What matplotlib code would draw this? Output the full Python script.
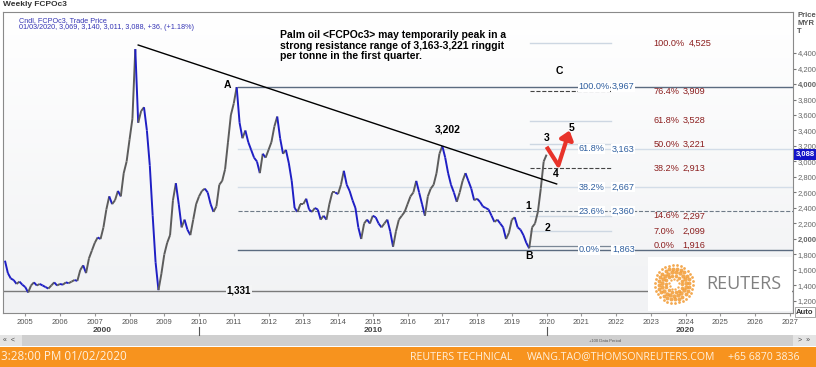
#!/bin/env python

import numpy as np
import pandas as pd
import matplotlib
matplotlib.use("Agg")
import matplotlib.pyplot as plt
import matplotlib.transforms as mtransforms
from matplotlib.collections import LineCollection
from matplotlib.colors import LinearSegmentedColormap
from matplotlib.patches import Rectangle, FancyArrowPatch
from matplotlib.lines import Line2D

plt.rcParams['font.family'] = ['Liberation Sans', 'DejaVu Sans']

W, H = 816, 367

# monthly closes of FCPOc3 (MYR/t), Jun 2004 .. Jan 2020
first_month = "2004-06-01"
closes = [
    1720, 1560, 1490, 1470, 1420, 1450, 1410,                                # 2004
    1380, 1310, 1400, 1440, 1400, 1420, 1400, 1380, 1360, 1400, 1440, 1400,  # 2005
    1420, 1410, 1440, 1430, 1450, 1470, 1460, 1600, 1660, 1560, 1750, 1850,  # 2006
    1950, 2020, 2000, 2150, 2380, 2550, 2450, 2500, 2620, 2550, 2850, 3000,  # 2007
    3280, 3550, 4450, 3500, 3650, 3700, 3400, 2950, 2300, 1700, 1340, 1550,  # 2008
    1800, 1950, 2050, 2500, 2720, 2450, 2150, 2250, 2120, 2050, 2250, 2450,  # 2009
    2550, 2620, 2650, 2600, 2450, 2350, 2420, 2700, 2750, 2900, 3250, 3600,  # 2010
    3750, 3960, 3500, 3300, 3400, 3250, 3150, 3050, 3000, 2850, 3100, 3050,  # 2011
    3150, 3250, 3450, 3580, 3300, 3100, 3150, 2980, 2750, 2400, 2350, 2450,  # 2012
    2450, 2520, 2380, 2350, 2400, 2380, 2250, 2300, 2250, 2450, 2600, 2600,  # 2013
    2580, 2700, 2880, 2700, 2620, 2500, 2400, 2150, 2000, 2200, 2250, 2200,  # 2014
    2300, 2280, 2200, 2150, 2200, 2250, 2100, 1900, 2100, 2250, 2300, 2350,  # 2015
    2450, 2550, 2600, 2750, 2600, 2450, 2300, 2550, 2650, 2700, 2850, 3100,  # 2016
    3200, 3050, 2850, 2700, 2600, 2480, 2600, 2750, 2850, 2750, 2650, 2500,  # 2017
    2520, 2480, 2420, 2400, 2380, 2300, 2220, 2250, 2200, 2150, 2000, 2080,  # 2018
    2250, 2280, 2150, 2120, 2050, 1950, 1880, 2150, 2200, 2350, 2650, 3000,  # 2019
    3088,                                                                    # 2020
]
last_close = 3088

year_ticks = list(range(2005, 2028))
decade_labels = ["2000", "2010", "2020"]
decade_label_x = [2007.2, 2015.0, 2024.0]
decade_marks = [2010, 2020]
price_ticks = list(range(1200, 4401, 200))

# A -> B retracement (blue)
ret_pct = ["0.0%", "23.6%", "38.2%", "61.8%", "100.0%"]
ret_val = [1863, 2360, 2667, 3163, 3967]
# projection levels (red)
proj_pct = ["0.0%", "7.0%", "14.6%", "38.2%", "50.0%", "61.8%", "76.4%", "100.0%"]
proj_val = [1916, 2099, 2297, 2913, 3221, 3528, 3909, 4525]

trend_x = [2008.25, 2020.29]
trend_y = [4503, 2710]
support_val = 1331
arrow_x = [2020.0, 2020.34, 2020.66]
arrow_y = [3190, 2950, 3400]
wave_labels = ["A", "B", "C", "1", "2", "3", "4", "5", "3,202"]
wave_x = [2010.83, 2019.51, 2020.37, 2019.48, 2020.02, 2020.0, 2020.26, 2020.72, 2017.16]
wave_y = [3987, 1781, 4168, 2426, 2142, 3303, 2839, 3432, 3419]

note = ("Palm oil <FCPOc3> may temporarily peak in a\n"
        "strong resistance range of 3,163-3,221 ringgit\n"
        "per tonne in the first quarter.")


def fx(p):
    return p / float(W)


def fy(p):
    return 1.0 - p / float(H)


fig = plt.figure(figsize=(W / 100.0, H / 100.0), dpi=100)
fig.patch.set_facecolor("white")

ax = fig.add_axes([fx(3), fy(313), fx(793) - fx(3), fy(11.7) - fy(313)])
x_lo, x_hi = 2004.36, 2027.09
y_lo, y_hi = 1045, 4933

bg = LinearSegmentedColormap.from_list("bg", ["#f1f2f4", "#ffffff"])
ax.imshow(np.linspace(0, 1, 64).reshape(-1, 1), cmap=bg, extent=[0, 1, 0, 1],
          transform=ax.transAxes, aspect="auto", origin="lower", zorder=0)

# price
months = pd.date_range(first_month, periods=len(closes), freq="MS")
t = np.asarray(months.year + (months.month - 1) / 12.0, dtype=float)
p = np.asarray(closes, dtype=float)
segs = np.stack([np.column_stack([t[:-1], p[:-1]]),
                 np.column_stack([t[1:], p[1:]])], axis=1)
cols = np.where(p[1:] >= p[:-1], "#5c5c5c", "#1f1fc4")
ax.add_collection(LineCollection(segs, colors=list(cols), linewidths=1.4, zorder=5))

# retracement lines from A to right edge
x_a = 2011.12
ret_style = {"0.0%": ("-", "#5b6b80", 1.0), "23.6%": ("--", "#6f7b88", 0.8),
             "38.2%": ("-", "#d3dde8", 1.0), "61.8%": ("-", "#d3dde8", 1.0),
             "100.0%": ("-", "#5b6b80", 1.0)}
lab_fs = 6.6
for pc, v in zip(ret_pct, ret_val):
    ls, c, lw = ret_style[pc]
    ax.plot([x_a, x_hi], [v, v], ls=ls, color=c, lw=lw, zorder=2)
    ax.text(2020.91, v, pc, color="#2f5f9f", fontsize=lab_fs, va="center", ha="left", zorder=8,
            bbox=dict(boxstyle="square,pad=0.05", fc="white", ec="none"))
    ax.text(2021.88, v, format(v, ","), color="#2f5f9f", fontsize=lab_fs, va="center",
            ha="left", zorder=8, bbox=dict(boxstyle="square,pad=0.05", fc="white", ec="none"))

# projection lines
proj_dark = ["38.2%", "76.4%"]
for pc, v in zip(proj_pct, proj_val):
    if pc in proj_dark:
        ax.plot([2019.53, 2021.86], [v, v], ls="--", color="#444444", lw=0.8, zorder=3)
    elif pc == "0.0%":
        ax.plot([2019.53, 2021.86], [v, v], ls="-", color="#7a8796", lw=0.9, zorder=3)
    else:
        ax.plot([2019.53, 2021.86], [v, v], ls="-", color="#cdd7e2", lw=1.0, zorder=3)
    ax.text(2023.07, v, pc, color="#8c1f1f", fontsize=lab_fs, va="center", ha="left", zorder=8)
    val_x = 2023.92 if len(pc) < 6 else 2024.08
    ax.text(val_x, v, format(v, ","), color="#8c1f1f", fontsize=lab_fs, va="center",
            ha="left", zorder=8)

# trend line and support
ax.plot(trend_x, trend_y, color="black", lw=1.0, zorder=6)
ax.axhline(support_val, color="#7a7a7a", lw=1.0, zorder=2)
ax.text(2011.15, support_val, format(support_val, ","), fontsize=7, fontweight="bold",
        ha="center", va="center", zorder=8,
        bbox=dict(boxstyle="square,pad=0.1", fc="#f4f5f6", ec="none"))

# red arrow
ax.plot(arrow_x[:2], arrow_y[:2], color="#e8332a", lw=3, solid_capstyle="butt", zorder=7)
ax.add_patch(FancyArrowPatch((arrow_x[1], arrow_y[1]), (arrow_x[2], arrow_y[2]),
                             arrowstyle="-|>,head_length=5,head_width=4",
                             color="#e8332a", lw=3, shrinkA=0, shrinkB=0, zorder=7))

for lab, xx, yy in zip(wave_labels, wave_x, wave_y):
    ax.text(xx, yy, lab, fontsize=7.5, fontweight="bold", ha="center", va="center", zorder=9)

ax.set_xlim(x_lo, x_hi)
ax.set_ylim(y_lo, y_hi)

ax.yaxis.tick_right()
ax.set_yticks(price_ticks)
ax.set_yticklabels([format(v, ",") for v in price_ticks])
for lab, v in zip(ax.get_yticklabels(), price_ticks):
    if v in (2000, 4000):
        lab.set_fontweight("bold")
        lab.set_color("#333333")
ax.tick_params(axis="y", labelsize=5.5, labelcolor="#666666", length=2.5, pad=1, color="#777777")
ax.set_xticks(year_ticks)
ax.set_xticklabels([str(y) for y in year_ticks])
ax.tick_params(axis="x", labelsize=5.5, labelcolor="#555555", length=2, pad=2.5, color="#999999")
for s in ax.spines.values():
    s.set_color("#8a8a8a")
    s.set_linewidth(0.8)

# current price marker
blend_y = mtransforms.blended_transform_factory(ax.transAxes, ax.transData)
ax.text(1.004, last_close, format(last_close, ","), transform=blend_y, fontsize=5.5,
        color="white", fontweight="bold", ha="left", va="center", clip_on=False, zorder=10,
        bbox=dict(boxstyle="square,pad=0.25", fc="#1414c8", ec="none"))

# decade labels and marks
blend_x = mtransforms.blended_transform_factory(ax.transData, fig.transFigure)
for lab, xx in zip(decade_labels, decade_label_x):
    fig.text(xx, fy(331), lab, transform=blend_x, fontsize=6, fontweight="bold",
             color="#444444", ha="center", va="center")
for xx in decade_marks:
    fig.add_artist(Line2D([xx, xx], [fy(327), fy(335)], transform=blend_x,
                          color="#555555", lw=0.8))

# header texts
fig.text(fx(3), fy(5), "Weekly FCPOc3", fontsize=6, fontweight="bold", color="#333333",
         ha="left", va="center")
fig.text(fx(19), fy(21), "Cndl, FCPOc3, Trade Price", fontsize=5.2, color="#3535b5",
         ha="left", va="center")
fig.text(fx(19), fy(27.5), "01/03/2020, 3,069, 3,140, 3,011, 3,088, +36, (+1.18%)",
         fontsize=5.2, color="#3535b5", ha="left", va="center")
fig.text(fx(280), fy(30), note, fontsize=7.5, fontweight="bold", ha="left", va="top",
         linespacing=1.08)
fig.text(fx(797), fy(12), "Price\nMYR\nT", fontsize=5.5, fontweight="bold", color="#555555",
         ha="left", va="top", linespacing=1.2)
fig.text(fx(805), fy(312), "Auto", fontsize=5.5, fontweight="bold", color="#333333",
         ha="center", va="center",
         bbox=dict(boxstyle="square,pad=0.2", fc="white", ec="#999999", lw=0.6))

# reuters logo box
lax = fig.add_axes([fx(648), fy(311), fx(792) - fx(648), fy(257) - fy(311)], zorder=5)
lax.set_xlim(0, 144)
lax.set_ylim(0, 54)
lax.set_facecolor("white")
lax.axis("off")
lax.add_patch(Rectangle((0, 0), 144, 54, fc="white", ec="none"))
cx, cy = 26, 27
for r, n, s in zip([5, 8.5, 12, 15.5, 19], [9, 14, 19, 24, 30], [3, 7, 10, 8, 4]):
    ang = np.linspace(0, 2 * np.pi, n, endpoint=False) + r
    lax.scatter(cx + r * np.cos(ang), cy + r * np.sin(ang), s=s, color="#f29a32",
                alpha=0.85, lw=0)
lax.text(96, 27, "REUTERS", fontsize=13, color="#808080", ha="center", va="center",
         family=["Open Sans", "DejaVu Sans"])

# scroll bar
fig.add_artist(Rectangle((0, fy(346)), 1, fy(335) - fy(346), transform=fig.transFigure,
                         fc="#cfcfcf", ec="none"))
fig.add_artist(Rectangle((0, fy(346)), fx(22), fy(335) - fy(346), transform=fig.transFigure,
                         fc="#e4e4e4", ec="none"))
fig.add_artist(Rectangle((fx(793), fy(346)), fx(23), fy(335) - fy(346),
                         transform=fig.transFigure, fc="#e4e4e4", ec="none"))
fig.text(fx(3), fy(340.5), "\u00ab  <", fontsize=5, color="#444444", ha="left", va="center")
fig.text(fx(798), fy(340.5), ">  \u00bb", fontsize=5, color="#444444", ha="left", va="center")
fig.text(fx(605), fy(340.5), "+100 Data Period", fontsize=3, color="#555555",
         ha="center", va="center")

# footer
fig.add_artist(Rectangle((0, 0), 1, fy(347), transform=fig.transFigure,
                         fc="#f7931e", ec="none"))
foot = dict(fontsize=7.6, color="#fff0dc", va="center", ha="left",
            family=["Open Sans", "DejaVu Sans"])
fig.text(fx(1), fy(357), "3:28:00 PM 01/02/2020", fontsize=8.4, color="#fff0dc",
         va="center", ha="left", family=["Open Sans", "DejaVu Sans"])
fig.text(fx(410), fy(357), "REUTERS TECHNICAL", **foot)
fig.text(fx(527), fy(357), "WANG.TAO@THOMSONREUTERS.COM", **foot)
fig.text(fx(728), fy(357), "+65 6870 3836", **foot)

fig.savefig("out.png", dpi=100)
